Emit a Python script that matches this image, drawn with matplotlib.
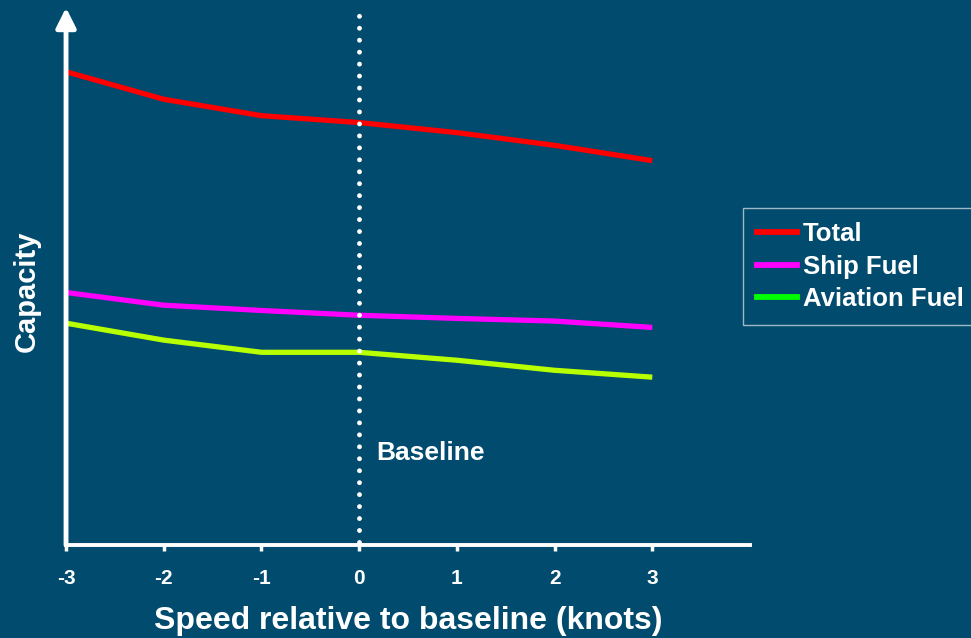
import matplotlib.pyplot as plt
import numpy as np

# Dados
speed = [-3, -2, -1, 0, 1, 2, 3]
total = [89.4, 84.2, 81.1, 79.8, 77.9, 75.5, 72.6]
ship_fuel = [47.7, 45.3, 44.3, 43.4, 42.8, 42.3, 41.1]
aviation_fuel = [41.9, 38.7, 36.4, 36.4, 34.9, 33.0, 31.7]
xticks = [-3, -2, -1, 0, 1, 2, 3]

bg = '#004B6E'
plt.rcParams['font.family'] = ['Liberation Sans', 'DejaVu Sans']
plt.rcParams['font.weight'] = 'bold'

fig = plt.figure(figsize=(9.71, 6.38), dpi=100, facecolor=bg)
ax = fig.add_axes([0.068, 0.1458, 0.7044, 0.838], facecolor=bg)

ax.plot(speed, total, color='#FF0000', lw=3.8, solid_capstyle='butt')
ax.plot(speed, ship_fuel, color='#FF00FF', lw=3.8, solid_capstyle='butt')
ax.plot(speed, aviation_fuel, color='#B8FF00', lw=3.8, solid_capstyle='butt')

# linha de referência pontilhada
ax.plot([0, 0], [0.5, 101], color='white', lw=3.5, linestyle=(0, (0.01, 2.45)),
        dash_capstyle='round', clip_on=False)
ax.text(0.17, 17.4, 'Baseline', color='white', fontsize=19, fontweight='bold',
        va='center', ha='left')

ax.set_xlim(-3, 4)
ax.set_ylim(0, 101)

for s in ['top', 'right', 'left']:
    ax.spines[s].set_visible(False)
ax.spines['bottom'].set_color('white')
ax.spines['bottom'].set_linewidth(2.8)

# eixo y com seta
ax.annotate('', xy=(0, 1.005), xytext=(0, 0), xycoords='axes fraction',
            arrowprops=dict(arrowstyle='-|>,head_length=0.6,head_width=0.3',
                            mutation_scale=20, color='white', lw=3.5,
                            shrinkA=0, shrinkB=0))

ax.set_xticks(xticks)
ax.set_xticklabels([str(t) for t in xticks])
ax.tick_params(axis='x', colors='white', length=4, width=2.5, pad=13,
               labelsize=15)
ax.set_yticks([])

ax.set_xlabel('Speed relative to baseline (knots)', color='white',
              fontsize=23, fontweight='bold', labelpad=13)
ax.set_ylabel('Capacity', color='white', fontsize=21, fontweight='bold')
ax.yaxis.set_label_coords(-0.037, 0.475)

h1 = plt.Line2D([], [], color='#FF0000', lw=4.2)
h2 = plt.Line2D([], [], color='#FF00FF', lw=4.2)
h3 = plt.Line2D([], [], color='#00FF00', lw=4.2)
leg = fig.legend([h1, h2, h3], ['Total', 'Ship Fuel', 'Aviation Fuel'],
                 loc='upper left', bbox_to_anchor=(743 / 971, 1 - 208 / 638),
                 frameon=True, fancybox=False, fontsize=18.5,
                 handlelength=1.55, handletextpad=0.23, labelspacing=0.33,
                 borderpad=0.55, borderaxespad=0)
leg.get_frame().set_facecolor(bg)
leg.get_frame().set_edgecolor('#C8D4DC')
leg.get_frame().set_linewidth(1)
for t in leg.get_texts():
    t.set_color('white')
    t.set_fontweight('bold')

fig.savefig('out.png', dpi=100, facecolor=bg)
